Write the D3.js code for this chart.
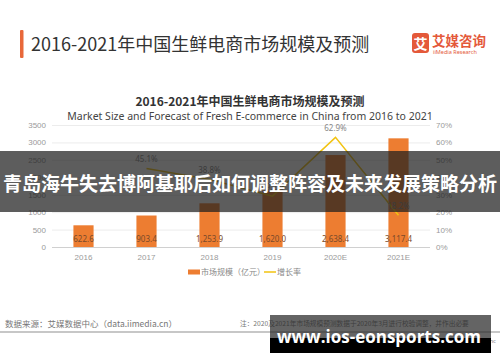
<!DOCTYPE html>
<html lang="zh-CN">
<head>
  <meta charset="UTF-8">
  <title>2016-2021年中国生鲜电商市场规模及预测</title>
  <style>
    body { margin: 0; background: #fff; }
    svg { display: block; font-family: "Noto Sans", "Noto Sans CJK SC", sans-serif; }
    .tick-label { font-size: 8px; fill: #9a9a9a; }
  </style>
</head>
<body>
  <svg width="500" height="362"></svg>

  <script src="https://d3js.org/d3.v7.min.js"></script>
  <script>
  // data
  var years = ["2016", "2017", "2018", "2019", "2020E", "2021E"];
  var marketSize = [622.6, 903.4, 1253.9, 1620.0, 2638.4, 3117.4];
  var growthRate = [null, 45.1, 38.8, 29.2, 62.9, 18.2];
  var leftTicks = [0, 500, 1000, 1500, 2000, 2500, 3000, 3500];
  var rightTicks = [0, 10, 20, 30, 40, 50, 60, 70];

  var svg = d3.select("svg");
  var cjk = "\"Noto Sans CJK SC\", \"Noto Sans\", sans-serif";

  // header
  svg.append("rect").attr("x", 20).attr("y", 30).attr("width", 3.5).attr("height", 28)
    .attr("rx", 1).attr("fill", "#e8683a");
  svg.append("text").attr("x", 31).attr("y", 51)
    .attr("font-size", 18).attr("fill", "#333").style("font-family", cjk)
    .text("2016-2021年中国生鲜电商市场规模及预测");

  // logo
  svg.append("rect").attr("x", 412).attr("y", 33).attr("width", 17).attr("height", 20)
    .attr("rx", 3).attr("fill", "#e4593a");
  svg.append("text").attr("x", 420.5).attr("y", 48.5).attr("text-anchor", "middle")
    .attr("font-size", 14).attr("font-weight", "bold").attr("fill", "#fff").style("font-family", cjk)
    .text("艾");
  svg.append("text").attr("x", 432).attr("y", 46)
    .attr("font-size", 13.5).attr("font-weight", "bold").attr("fill", "#e4593a").style("font-family", cjk)
    .text("艾媒咨询");
  svg.append("text").attr("x", 433).attr("y", 54)
    .attr("font-size", 5.5).attr("fill", "#e4593a")
    .text("iiMedia Research");

  // chart titles
  svg.append("text").attr("x", 250).attr("y", 106).attr("text-anchor", "middle")
    .attr("font-size", 12).attr("font-weight", "bold").attr("fill", "#333").style("font-family", cjk)
    .text("2016-2021年中国生鲜电商市场规模及预测");
  svg.append("text").attr("x", 250).attr("y", 120).attr("text-anchor", "middle")
    .attr("font-size", 10.5).attr("fill", "#444")
    .text("Market Size and Forecast of Fresh E-commerce in China from 2016 to 2021");

  // scales
  var x = d3.scaleBand().domain(years).range([52, 430]).paddingInner(0.68).paddingOuter(0.34);
  var yL = d3.scaleLinear().domain([0, 3500]).range([247, 125]);
  var yR = d3.scaleLinear().domain([0, 70]).range([247, 125]);

  // grid + left axis
  var gl = svg.append("g").attr("transform", "translate(46,0)")
    .call(d3.axisLeft(yL).tickValues(leftTicks).tickSize(0).tickPadding(0).tickFormat(d3.format("d")));
  gl.select(".domain").remove();
  gl.selectAll("text").attr("class", "tick-label").attr("font-family", null).attr("font-size", null);

  svg.append("g").selectAll("line").data(leftTicks).join("line")
    .attr("x1", 52).attr("x2", 430)
    .attr("y1", function(d) { return yL(d) + 0.5; }).attr("y2", function(d) { return yL(d) + 0.5; })
    .attr("stroke", function(d) { return d === 0 ? "#d0d0d0" : "#ececec"; }).attr("stroke-width", 1);

  // right axis
  var gr = svg.append("g").attr("transform", "translate(436,0)")
    .call(d3.axisRight(yR).tickValues(rightTicks).tickSize(0).tickPadding(0)
      .tickFormat(function(d) { return d + "%"; }));
  gr.select(".domain").remove();
  gr.selectAll("text").attr("class", "tick-label").attr("font-family", null).attr("font-size", null);

  // x axis
  var gx = svg.append("g").attr("transform", "translate(0,254)")
    .call(d3.axisBottom(x).tickSize(0).tickPadding(0));
  gx.select(".domain").remove();
  gx.selectAll("text").attr("class", "tick-label").attr("font-family", null).attr("font-size", null);

  // bars
  svg.append("g").selectAll("rect").data(marketSize).join("rect")
    .attr("x", function(d, i) { return x(years[i]); })
    .attr("y", function(d) { return yL(d); })
    .attr("width", x.bandwidth())
    .attr("height", function(d) { return yL(0) - yL(d); })
    .attr("fill", "#ed7d31");

  svg.append("g").selectAll("text").data(marketSize).join("text")
    .attr("x", function(d, i) { return x(years[i]) + x.bandwidth() / 2; })
    .attr("y", yL(0) - 5)
    .attr("text-anchor", "middle")
    .attr("font-size", 8).attr("fill", "#7a4a2a")
    .text(function(d) { return d3.format(",.1f")(d); });

  // growth line
  var pts = years.map(function(y, i) { return { y: y, v: growthRate[i] }; })
    .filter(function(d) { return d.v !== null; });
  var line = d3.line()
    .x(function(d) { return x(d.y) + x.bandwidth() / 2; })
    .y(function(d) { return yR(d.v); });
  svg.append("path").datum(pts).attr("d", line)
    .attr("fill", "none").attr("stroke", "#f2c311").attr("stroke-width", 1.5);

  svg.append("g").selectAll("text").data(pts).join("text")
    .attr("x", function(d) { return x(d.y) + x.bandwidth() / 2; })
    .attr("y", function(d) { return yR(d.v) - 6; })
    .attr("text-anchor", "middle")
    .attr("font-size", 8).attr("fill", "#888")
    .text(function(d) { return d.v.toFixed(1) + "%"; });

  // legend
  var lg = svg.append("g").attr("transform", "translate(188,272)");
  lg.append("rect").attr("x", 0).attr("y", -2.5).attr("width", 12).attr("height", 5).attr("fill", "#ed7d31");
  lg.append("text").attr("x", 13).attr("y", 3).attr("font-size", 8).attr("fill", "#888")
    .style("font-family", cjk).text("市场规模（亿元）");
  lg.append("line").attr("x1", 76).attr("x2", 88).attr("y1", 0).attr("y2", 0)
    .attr("stroke", "#f2c311").attr("stroke-width", 1.5);
  lg.append("text").attr("x", 89).attr("y", 3).attr("font-size", 8).attr("fill", "#888")
    .style("font-family", cjk).text("增长率");

  // footer
  svg.append("text").attr("x", 5).attr("y", 327).attr("font-size", 8.5).attr("fill", "#777")
    .style("font-family", cjk).text("数据来源：艾媒数据中心（data.iimedia.cn）");
  svg.append("text").attr("x", 240).attr("y", 326).attr("font-size", 6.7).attr("fill", "#777")
    .style("font-family", cjk).text("注：2020及2021年市场规模预测数据于2020年3月进行校验调整，并作出必要");
  svg.append("text").attr("x", 496).attr("y", 343).attr("text-anchor", "end")
    .attr("font-size", 6).attr("fill", "#888").text("iiMedia Research Inc");
  svg.append("line").attr("x1", 0).attr("x2", 500).attr("y1", 332).attr("y2", 332)
    .attr("stroke", "#b5b5b5").attr("stroke-width", 1.5);

  // overlay banner
  svg.append("rect").attr("x", 0).attr("y", 151).attr("width", 500).attr("height", 61)
    .attr("fill", "rgba(30,30,30,0.72)");
  svg.append("text").attr("x", 250).attr("y", 191).attr("text-anchor", "middle")
    .attr("font-size", 19).attr("font-weight", "bold").attr("fill", "#fff").style("font-family", cjk)
    .text("青岛海牛失去博阿基耶后如何调整阵容及未来发展策略分析");

  // watermark box
  svg.append("rect").attr("x", 270).attr("y", 315).attr("width", 221).attr("height", 23)
    .attr("fill", "rgba(40,40,40,0.72)");
  svg.append("rect").attr("x", 270).attr("y", 338).attr("width", 221).attr("height", 15)
    .attr("fill", "#000");
  svg.append("text").attr("x", 379).attr("y", 343).attr("text-anchor", "middle")
    .attr("font-size", 17).attr("font-weight", "bold").attr("fill", "#fff")
    .style("font-family", "\"Open Sans\", \"Noto Sans\", sans-serif")
    .text("www.ios-eonsports.com");
  </script>
</body>
</html>
